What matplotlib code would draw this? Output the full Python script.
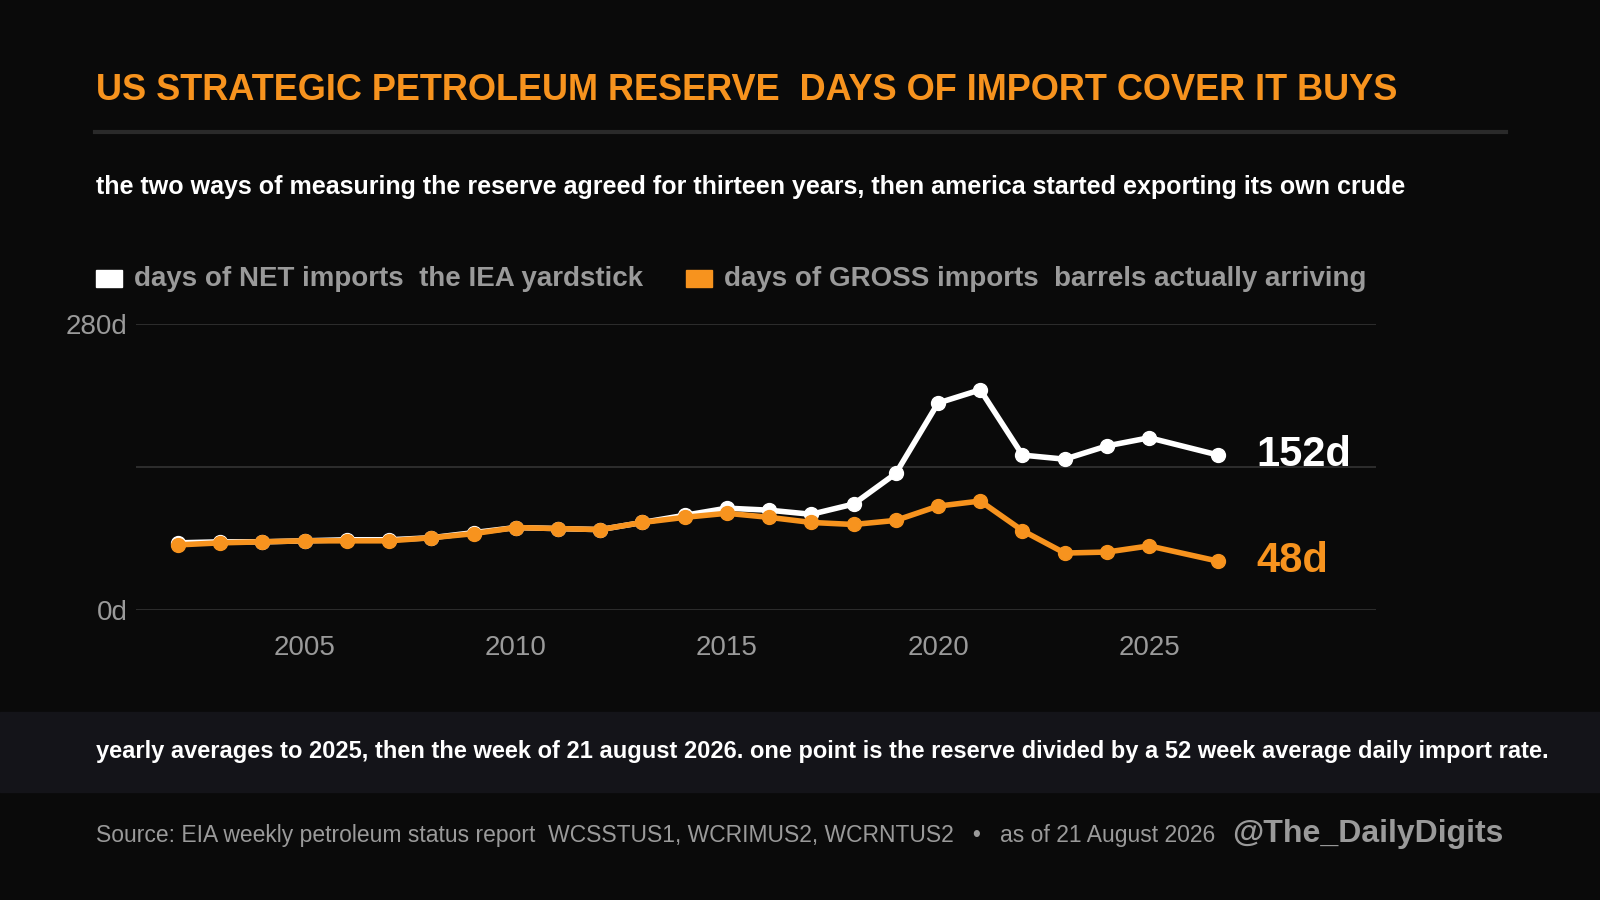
import matplotlib
matplotlib.use("Agg")
import matplotlib.pyplot as plt
from matplotlib.patches import Rectangle
from matplotlib.lines import Line2D

years = [2002,2003,2004,2005,2006,2007,2008,2009,2010,2011,2012,2013,2014,2015,2016,2017,2018,2019,2020,2021,2022,2023,2024,2025,2026.64]
net_days = [66,67,67,68,69,69,71,76,81,80,79,86,93,100,98,94,104,134,203,216,152,148,161,169,152]
gross_days = [64,66,67,68,68,68,71,75,81,80,79,86,91,95,91,86,84,88,102,107,78,56,57,63,48]
yticks = [0,140,280]
ytick_labels = ["0d","","280d"]
xticks = [2005,2010,2015,2020,2025]

W,H = 1568,882
BG = "#0a0a0a"; OR = "#f7931e"; GREY = "#9a9a9a"
plt.rcParams['font.family'] = ['Liberation Sans','DejaVu Sans']
fig = plt.figure(figsize=(16,9), dpi=100, facecolor=BG)
def fx(x): return x/W
def fy(y): return 1-y/H

fig.text(fx(94), fy(89), "US STRATEGIC PETROLEUM RESERVE  DAYS OF IMPORT COVER IT BUYS", color=OR, fontsize=26, fontweight='bold', va='center')
fig.add_artist(Line2D([fx(93),fx(1476)],[fy(129),fy(129)], color="#2a2a2a", lw=3))
fig.text(fx(94), fy(183), "the two ways of measuring the reserve agreed for thirteen years, then america started exporting its own crude", color="white", fontsize=18, fontweight='bold', va='center')
fig.add_artist(Rectangle((fx(94),fy(281)), fx(26), 16/H, color="white", transform=fig.transFigure))
fig.text(fx(131), fy(273), "days of NET imports  the IEA yardstick", color=GREY, fontsize=20, fontweight='bold', va='center')
fig.add_artist(Rectangle((fx(672),fy(281)), fx(26), 16/H, color=OR, transform=fig.transFigure))
fig.text(fx(710), fy(273), "days of GROSS imports  barrels actually arriving", color=GREY, fontsize=20, fontweight='bold', va='center')

ax = fig.add_axes([fx(133), fy(598), fx(1348-133), 280/H])
ax.set_facecolor(BG)
ax.set_xlim(2001.0, 2030.36); ax.set_ylim(0,280)
for s in ax.spines.values(): s.set_visible(False)
for t in yticks: ax.axhline(t, color="#333333", lw=1.2, zorder=0)
ax.set_yticks(yticks); ax.set_yticklabels(ytick_labels)
ax.set_xticks(xticks)
ax.tick_params(length=0, colors=GREY, labelsize=20)
ax.tick_params(axis='x', pad=18)
ax.tick_params(axis='y', pad=6)
ax.plot(years, net_days, color="white", lw=4, marker='o', ms=10, zorder=3, clip_on=False)
ax.plot(years, gross_days, color=OR, lw=4, marker='o', ms=10, zorder=4, clip_on=False)
ax.text(years[-1]+0.9, net_days[-1], f"{net_days[-1]}d", color="white", fontsize=30, fontweight='bold', va='center')
ax.text(years[-1]+0.9, gross_days[-1], f"{gross_days[-1]}d", color=OR, fontsize=30, fontweight='bold', va='center')

fig.add_artist(Rectangle((0,fy(776)), 1, 78/H, color="#141419", transform=fig.transFigure, zorder=0))
fig.text(fx(94), fy(736), "yearly averages to 2025, then the week of 21 august 2026. one point is the reserve divided by a 52 week average daily import rate.", color="white", fontsize=17, fontweight='bold', va='center')
fig.text(fx(94), fy(819), "Source: EIA weekly petroleum status report  WCSSTUS1, WCRIMUS2, WCRNTUS2   •   as of 21 August 2026", color=GREY, fontsize=16.5, va='center')
fig.text(fx(1473), fy(817), "@The_DailyDigits", color=GREY, fontsize=23, fontweight='bold', va='center', ha='right')
fig.savefig("out.png", dpi=100, facecolor=BG)
